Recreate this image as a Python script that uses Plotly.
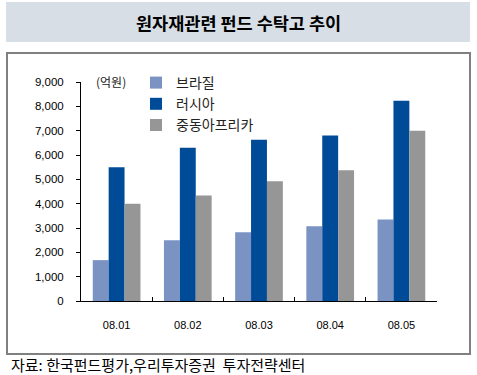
import plotly.graph_objects as go

categories = ["08.01", "08.02", "08.03", "08.04", "08.05"]
brazil = [1680, 2500, 2830, 3070, 3350]
russia = [5500, 6300, 6630, 6800, 8230]
mideast = [4000, 4340, 4920, 5370, 7000]
series_names = ["브라질", "러시아", "중동아프리카"]
y_ticks = [0, 1000, 2000, 3000, 4000, 5000, 6000, 7000, 8000, 9000]
y_tick_labels = [f"{v:,}" for v in y_ticks]

W, H = 477, 375
L, R, T, B = 81, 40, 82, 74
PW = W - L - R
PH = H - T - B


def px(x):
    return (x - L) / PW


def py(y):
    return (H - B - y) / PH


FONT = "Liberation Sans, Arial, Noto Sans CJK KR, sans-serif"
KFONT = "Noto Sans CJK KR, Liberation Sans, sans-serif"

fig = go.Figure()
colors = ["#7b93c3", "#004b98", "#969696"]
for name, vals, c in zip(series_names, [brazil, russia, mideast], colors):
    fig.add_trace(go.Bar(x=categories, y=vals, name=name, marker_color=c,
                         marker_line_width=0))

fig.update_layout(
    width=W, height=H,
    margin=dict(l=L, r=R, t=T, b=B),
    paper_bgcolor="white", plot_bgcolor="white",
    barmode="group", bargap=0.33, bargroupgap=0,
    font=dict(family=FONT, size=11, color="#000000"),
    showlegend=True,
    legend=dict(x=px(136), y=py(67), xanchor="left", yanchor="top",
                bgcolor="rgba(0,0,0,0)", tracegroupgap=0,
                font=dict(family=KFONT, size=14, color="#222222"),
                itemwidth=30),
    xaxis=dict(showline=True, linecolor="black", linewidth=1,
               ticks="inside", ticklen=4, tickcolor="black",
               tickson="boundaries", showgrid=False,
               ticklabelstandoff=14,
               tickfont=dict(size=11, family=FONT)),
    yaxis=dict(range=[0, 9000], showline=True, linecolor="black", linewidth=1,
               ticks="outside", ticklen=4, tickcolor="black",
               tickvals=y_ticks, ticktext=y_tick_labels, showgrid=False,
               zeroline=False, ticklabelstandoff=10,
               tickfont=dict(size=11.5, family=FONT)),
)

# title box
fig.add_shape(type="rect", xref="paper", yref="paper",
              x0=px(6), x1=px(470), y0=py(42), y1=py(2),
              fillcolor="#d8dee6", line_width=0, layer="below")
# frame
fig.add_shape(type="rect", xref="paper", yref="paper",
              x0=px(7), x1=px(470), y0=py(354), y1=py(53),
              line=dict(color="#808080", width=2), fillcolor="rgba(0,0,0,0)")

fig.add_annotation(text="<b>원자재관련 펀드 수탁고 추이</b>", xref="paper", yref="paper",
                   x=px(238), y=py(22), xanchor="center", yanchor="middle",
                   showarrow=False,
                   font=dict(family=KFONT, size=17.5, color="black"))
fig.add_annotation(text="(억원)", xref="paper", yref="paper",
                   x=px(94), y=py(81), xanchor="left", yanchor="middle",
                   showarrow=False,
                   font=dict(family=KFONT, size=12, color="#222222"))
fig.add_annotation(text="자료: 한국펀드평가,우리투자증권  투자전략센터", xref="paper", yref="paper",
                   x=px(9), y=py(364), xanchor="left", yanchor="middle",
                   showarrow=False,
                   font=dict(family=KFONT, size=15, color="black"))

fig.write_html("out.html", config={"displayModeBar": False},
               post_script="document.body.style.margin='0';")
